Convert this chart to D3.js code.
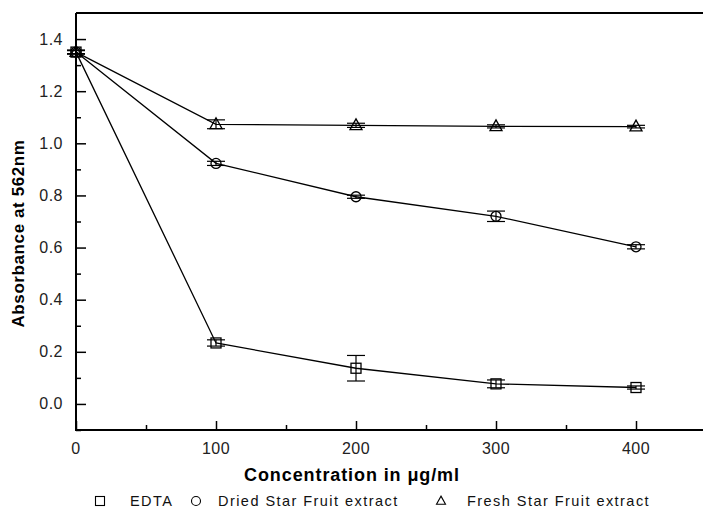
<!DOCTYPE html>
<html>
<head>
<meta charset="utf-8">
<script src="https://cdn.jsdelivr.net/npm/d3@7"></script>
<style>
  body { margin: 0; background: #fff; }
  svg { display: block; font-family: "Liberation Sans", Arial, sans-serif; }
</style>
</head>
<body>
<svg id="chart"></svg>
<script>
// data
const concentrations = [0, 100, 200, 300, 400];
const edta = [1.35, 0.234, 0.137, 0.077, 0.063];
const edtaErr = [0.008, 0.012, 0.049, 0.015, 0.006];
const dried = [1.35, 0.923, 0.795, 0.72, 0.603];
const driedErr = [0.006, 0.008, 0.006, 0.02, 0.008];
const fresh = [1.35, 1.073, 1.069, 1.065, 1.064];
const freshErr = [0.006, 0.017, 0.008, 0.006, 0.005];
const seriesNames = ['EDTA', 'Dried Star Fruit extract', 'Fresh Star Fruit extract'];
const xTicks = [0, 100, 200, 300, 400];
const yTicks = [0.0, 0.2, 0.4, 0.6, 0.8, 1.0, 1.2, 1.4];

const W = 703, H = 514;
const svg = d3.select('#chart').attr('width', W).attr('height', H);

const margin = { top: 13, left: 76, bottom: 84 };
const x = d3.scaleLinear().domain([0, 450]).range([margin.left, margin.left + 630]);
const y = d3.scaleLinear().domain([-0.1, 1.5]).range([H - margin.bottom, margin.top]);

const series = [
  { name: seriesNames[0], vals: edta, err: edtaErr, sym: 'square' },
  { name: seriesNames[1], vals: dried, err: driedErr, sym: 'circle' },
  { name: seriesNames[2], vals: fresh, err: freshErr, sym: 'triangle' },
];

// frame: top line, left axis, bottom axis (no right border)
const frame = svg.append('g').attr('stroke', '#000').attr('stroke-width', 2);
frame.append('line').attr('x1', x(0)).attr('x2', W).attr('y1', y(1.5)).attr('y2', y(1.5));
frame.append('line').attr('x1', x(0)).attr('x2', x(0)).attr('y1', y(1.5)).attr('y2', y(-0.1) + 1);
frame.append('line').attr('x1', x(0) - 1).attr('x2', W).attr('y1', y(-0.1)).attr('y2', y(-0.1));

// y axis ticks (inside)
const yAxis = d3.axisRight(y).tickValues(yTicks).tickSize(10).tickFormat('');
const yMinor = d3.axisRight(y).tickValues(d3.range(-0.1, 1.45, 0.2).map(v => +v.toFixed(1))).tickSize(5).tickFormat('');
[yAxis, yMinor].forEach(ax => {
  const g = svg.append('g').attr('transform', `translate(${x(0)},0)`).call(ax);
  g.select('.domain').remove();
  g.selectAll('line').attr('stroke', '#000').attr('stroke-width', 1.5);
});
svg.append('g').selectAll('text').data(yTicks).enter().append('text')
  .attr('x', 63).attr('y', d => y(d) + 5.5)
  .attr('text-anchor', 'end').attr('font-size', 16).attr('letter-spacing', 0.5).attr('fill', '#222')
  .text(d3.format('.1f'));

// x axis ticks (inside)
const xAxis = d3.axisTop(x).tickValues(xTicks).tickSize(9).tickFormat('');
const xMinor = d3.axisTop(x).tickValues([50, 150, 250, 350, 450]).tickSize(5).tickFormat('');
[xAxis, xMinor].forEach(ax => {
  const g = svg.append('g').attr('transform', `translate(0,${y(-0.1)})`).call(ax);
  g.select('.domain').remove();
  g.selectAll('line').attr('stroke', '#000').attr('stroke-width', 1.5);
});
svg.append('g').selectAll('text').data(xTicks).enter().append('text')
  .attr('x', d => x(d)).attr('y', 454)
  .attr('text-anchor', 'middle').attr('font-size', 16).attr('letter-spacing', 0.5).attr('fill', '#222')
  .text(d => d);

// axis titles
svg.append('text')
  .attr('x', 352).attr('y', 481)
  .attr('text-anchor', 'middle').attr('font-size', 18).attr('font-weight', 'bold')
  .attr('letter-spacing', 0.9)
  .text('Concentration in μg/ml');
svg.append('text')
  .attr('transform', `translate(24,${(y(1.5) + y(-0.1)) / 2 + 12}) rotate(-90)`)
  .attr('text-anchor', 'middle').attr('font-size', 17).attr('font-weight', 'bold')
  .attr('letter-spacing', 0.6)
  .text('Absorbance at 562nm');

// symbol drawing helper
function drawSymbol(g, sym, cx, cy, s) {
  if (sym === 'square') {
    g.append('rect').attr('x', cx - s / 2).attr('y', cy - s / 2).attr('width', s).attr('height', s);
  } else if (sym === 'circle') {
    g.append('circle').attr('cx', cx).attr('cy', cy).attr('r', s / 2);
  } else {
    const h = s * 0.9;
    g.append('path').attr('d', `M${cx},${cy - h * 0.6}L${cx + s / 2},${cy + h * 0.4}L${cx - s / 2},${cy + h * 0.4}Z`);
  }
}

const line = d3.line().x(d => x(d[0])).y(d => y(d[1]));
const plot = svg.append('g');

series.forEach(s => {
  const pts = concentrations.map((c, i) => [c, s.vals[i], s.err[i]]);
  plot.append('path').datum(pts).attr('d', line)
    .attr('fill', 'none').attr('stroke', '#000').attr('stroke-width', 1.3);

  const eb = plot.append('g').attr('stroke', '#000').attr('stroke-width', 1.2);
  pts.forEach(p => {
    const cx = x(p[0]);
    eb.append('line').attr('x1', cx).attr('x2', cx).attr('y1', y(p[1] - p[2])).attr('y2', y(p[1] + p[2]));
    [p[1] - p[2], p[1] + p[2]].forEach(v => {
      eb.append('line').attr('x1', cx - 9).attr('x2', cx + 9).attr('y1', y(v)).attr('y2', y(v));
    });
  });

  const mk = plot.append('g').attr('fill', 'none').attr('stroke', '#000').attr('stroke-width', 1.3);
  pts.forEach(p => drawSymbol(mk, s.sym, x(p[0]), y(p[1]), s.sym === 'triangle' ? 12 : 10));
});

// legend
const legendItems = [
  { sym: 'square', mx: 100, tx: 130 },
  { sym: 'circle', mx: 196, tx: 218 },
  { sym: 'triangle', mx: 441, tx: 467 },
];
const legend = svg.append('g');
legendItems.forEach((d, i) => {
  const g = legend.append('g').attr('fill', 'none').attr('stroke', '#000').attr('stroke-width', 1.1);
  drawSymbol(g, d.sym, d.mx, 501, 9);
  legend.append('text')
    .attr('x', d.tx).attr('y', 506)
    .attr('font-size', 14.5).attr('letter-spacing', 1.45).attr('fill', '#111')
    .text(seriesNames[i]);
});
</script>
</body>
</html>
